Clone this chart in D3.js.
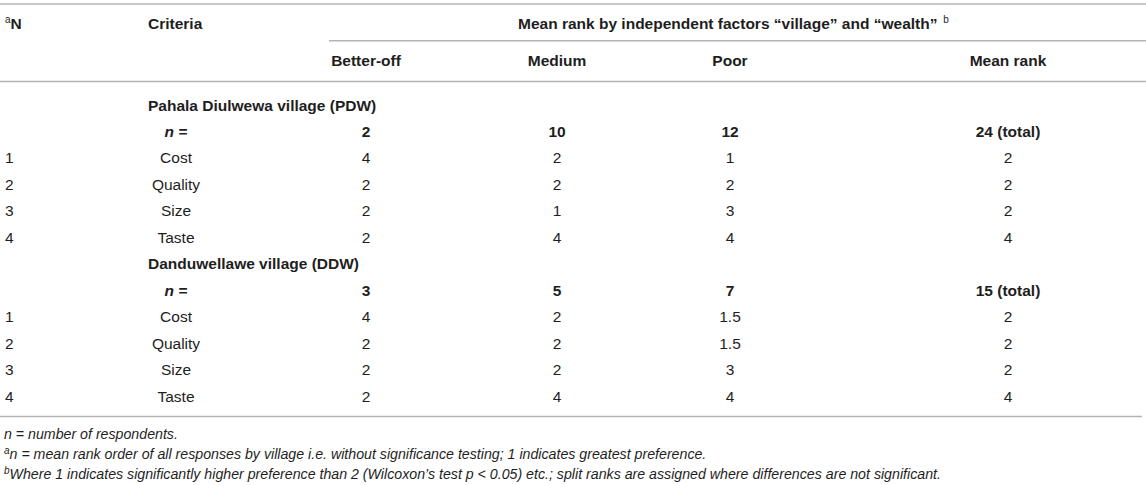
<!DOCTYPE html>
<html><head><meta charset="utf-8">
<script src="https://cdn.jsdelivr.net/npm/d3@7"></script>
<style>
html,body{margin:0;padding:0;background:#fff;}
svg{display:block;font-family:"Liberation Sans",Arial,Helvetica,sans-serif;}
</style></head>
<body>
<svg id="chart" width="1146" height="485"></svg>
<script>
const columns = ["criteria","better","medium","poor","mean"];
const columnHeaders = ["Better-off","Medium","Poor","Mean rank"];
const spanHeader = "Mean rank by independent factors \u201cvillage\u201d and \u201cwealth\u201d";
const criteria = ["Cost","Quality","Size","Taste"];
const villages = ["Pahala Diulwewa village (PDW)","Danduwellawe village (DDW)"];
const respondentsPDW = ["2","10","12","24 (total)"];
const respondentsDDW = ["3","5","7","15 (total)"];
const ranksPDW = [["4","2","1","2"],["2","2","2","2"],["2","1","3","2"],["2","4","4","4"]];
const ranksDDW = [["4","2","1.5","2"],["2","2","1.5","2"],["2","2","3","2"],["2","4","4","4"]];
const footnotes = [
  {sup:"", text:"n = number of respondents."},
  {sup:"a", text:"n = mean rank order of all responses by village i.e. without significance testing; 1 indicates greatest preference."},
  {sup:"b", text:"Where 1 indicates significantly higher preference than 2 (Wilcoxon\u2019s test p < 0.05) etc.; split ranks are assigned where differences are not significant."}
];

const svg = d3.select("#chart");
const W = 1146;
const FS = 15.5;
const ink = "#1e1e1e";
const rule = "#b4b4b4";

const x = d3.scaleOrdinal().domain(columns).range([176, 366, 557, 730, 1008]);

// body rows
const rows = [];
[[villages[0], respondentsPDW, ranksPDW],[villages[1], respondentsDDW, ranksDDW]].forEach(([v, n, r]) => {
  rows.push({type:"group", label:v});
  rows.push({type:"n", values:n});
  criteria.forEach((c,i) => rows.push({type:"data", num:String(i+1), crit:c, values:r[i]}));
});
const y = d3.scalePoint().domain(d3.range(rows.length)).range([110.5, 401.5]);

// rules
const lines = [
  {x1:0, x2:W, y:4},
  {x1:329, x2:W, y:40.7},
  {x1:0, x2:W, y:81.5},
  {x1:0, x2:1142, y:416.5}
];
svg.selectAll("line.rule").data(lines).join("line")
  .attr("class","rule")
  .attr("x1",d=>d.x1).attr("x2",d=>d.x2).attr("y1",d=>d.y).attr("y2",d=>d.y)
  .attr("stroke",rule).attr("stroke-width",1.6);

// header
const hdr = svg.append("g").attr("font-size",FS).attr("font-weight","bold").attr("fill",ink);
const nh = hdr.append("text").attr("x",5).attr("y",29);
nh.append("tspan").attr("font-size",10).attr("font-weight","normal").attr("dy",-6).text("a");
nh.append("tspan").attr("dy",6).text("N");
hdr.append("text").attr("x",148).attr("y",29).text("Criteria");
const sh = hdr.append("text").attr("x",518).attr("y",29);
sh.append("tspan").text(spanHeader + " ");
sh.append("tspan").attr("font-size",10).attr("font-weight","normal").attr("dx",1.5).attr("dy",-6).text("b");
hdr.selectAll("text.col").data(columnHeaders).join("text")
  .attr("class","col")
  .attr("x",(d,i)=>x(columns[i+1])).attr("y",66)
  .attr("text-anchor","middle").text(d=>d);

// body
const body = svg.append("g").attr("font-size",FS).attr("fill",ink);
rows.forEach((r,i) => {
  const yy = y(i);
  if (r.type === "group") {
    body.append("text").attr("x",148).attr("y",yy).attr("font-weight","bold").text(r.label);
  } else if (r.type === "n") {
    body.append("text").attr("x",x("criteria")).attr("y",yy).attr("text-anchor","middle")
      .attr("font-weight","bold").attr("font-style","italic").text("n =");
    body.selectAll(null).data(r.values).join("text")
      .attr("x",(d,j)=>x(columns[j+1])).attr("y",yy).attr("text-anchor","middle")
      .attr("font-weight","bold").text(d=>d);
  } else {
    body.append("text").attr("x",5).attr("y",yy).text(r.num);
    body.append("text").attr("x",x("criteria")).attr("y",yy).attr("text-anchor","middle").text(r.crit);
    body.selectAll(null).data(r.values).join("text")
      .attr("x",(d,j)=>x(columns[j+1])).attr("y",yy).attr("text-anchor","middle").text(d=>d);
  }
});

// footnotes
const fn = svg.append("g").attr("font-size",14.2).attr("font-style","italic").attr("fill",ink);
const fy = d3.scalePoint().domain(d3.range(footnotes.length)).range([438.5, 479]);
footnotes.forEach((f,i) => {
  const t = fn.append("text").attr("x",4).attr("y",fy(i));
  if (f.sup) {
    t.append("tspan").attr("font-size",10).attr("dy",-5).text(f.sup);
    t.append("tspan").attr("dy",5).text(f.text);
  } else {
    t.append("tspan").text(f.text);
  }
});
</script>
</body></html>
